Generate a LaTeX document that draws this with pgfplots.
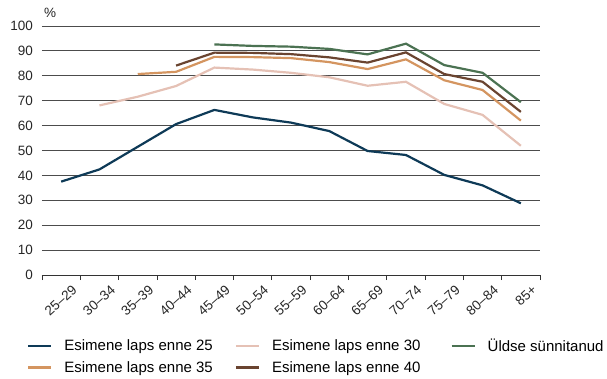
\documentclass[border=0pt]{standalone}
\usepackage{pgfplots}
\pgfplotsset{compat=1.18}
\usepackage{pgfplotstable}
\usepackage{fontspec}
\setmainfont{Liberation Sans}

\definecolor{c25}{HTML}{0E3A57}
\definecolor{c30}{HTML}{E5C1B5}
\definecolor{c35}{HTML}{D49560}
\definecolor{c40}{HTML}{6A4430}
\definecolor{cAll}{HTML}{4B7252}

% share (%) by age group
\pgfplotstableread{
x e25 e30 e35 e40 all
0 37.5 nan nan nan nan
1 42.4 68.1 nan nan nan
2 51.5 71.6 80.7 nan nan
3 60.6 75.9 81.6 84.1 nan
4 66.3 83.3 87.6 89.3 92.6
5 63.3 82.5 87.5 89.2 92.0
6 61.2 81.2 87.1 88.7 91.7
7 57.8 79.4 85.5 87.4 90.8
8 49.8 76.0 82.7 85.3 88.6
9 48.2 77.6 86.6 89.4 92.9
10 40.2 68.7 78.2 80.7 84.3
11 36.0 64.3 74.3 77.6 81.2
12 28.8 51.9 62.0 65.5 69.4
}\data

\begin{document}
\begin{tikzpicture}
\begin{axis}[
  width=498pt, height=249pt, scale only axis,
  font=\fontsize{13.5}{15}\selectfont,
  /pgf/number format/assume math mode=true,
  xmin=-0.5, xmax=12.5, ymin=0, ymax=100,
  ytick={0,10,...,100},
  % labels sit a little right of each category, as in the original
  xtick={0.27,1.27,2.27,3.27,4.27,5.27,6.27,7.27,8.27,9.27,10.27,11.27,12.27},
  xticklabels={25--29,30--34,35--39,40--44,45--49,50--54,55--59,60--64,65--69,70--74,75--79,80--84,85+},
  minor xtick={-0.5,0.5,...,12.5},
  major tick length=0pt,
  minor tick length=5pt,
  tick align=outside,
  xticklabel shift=9pt,
  xticklabel style={rotate=42, anchor=north east, inner sep=0pt, color=black!85},
  yticklabel style={anchor=east, inner sep=0pt, xshift=-9pt, color=black!85},
  axis lines*=left,
  y axis line style={draw=none},
  x axis line style={black!80, line width=0.8pt, -},
  minor tick style={black!80, line width=0.8pt},
  ymajorgrids,
  grid style={black!70, line width=0.8pt},
  unbounded coords=jump,
  every axis plot/.append style={line width=2.2pt, no marks},
  legend columns=3,
  legend image code/.code={\draw[#1, line width=2.2pt] (0pt,0pt) -- (23pt,0pt);},
  legend cell align=left,
  legend style={at={(rel axis cs:-0.0301,-0.257)}, anchor=north west, draw=none, fill=none,
    inner sep=0pt, nodes={inner sep=0pt},
    font=\fontsize{15}{17}\selectfont, row sep=8pt,
    /tikz/every odd column/.style={column sep=12pt},
    /tikz/column 2/.style={column sep=22pt},
    /tikz/column 4/.style={column sep=30pt}},
  clip=false,
]
\addplot[c25] table[x=x, y=e25] {\data};
\addlegendentry{Esimene laps enne 25}
\addplot[c30] table[x=x, y=e30] {\data};
\addlegendentry{Esimene laps enne 30}
\addplot[cAll] table[x=x, y=all] {\data};
\addlegendentry{Üldse sünnitanud}
\addplot[c35] table[x=x, y=e35] {\data};
\addlegendentry{Esimene laps enne 35}
\addplot[c40] table[x=x, y=e40] {\data};
\addlegendentry{Esimene laps enne 40}
\node[anchor=south west, inner sep=0pt, color=black!85] at (rel axis cs:0,1) [yshift=8pt, xshift=2pt] {\%};
% page frame of the reference (607 x 378)
\path (rel axis cs:-0.0843,-0.4137) rectangle (rel axis cs:1.1345,1.1044);
\end{axis}
\end{tikzpicture}
\end{document}
